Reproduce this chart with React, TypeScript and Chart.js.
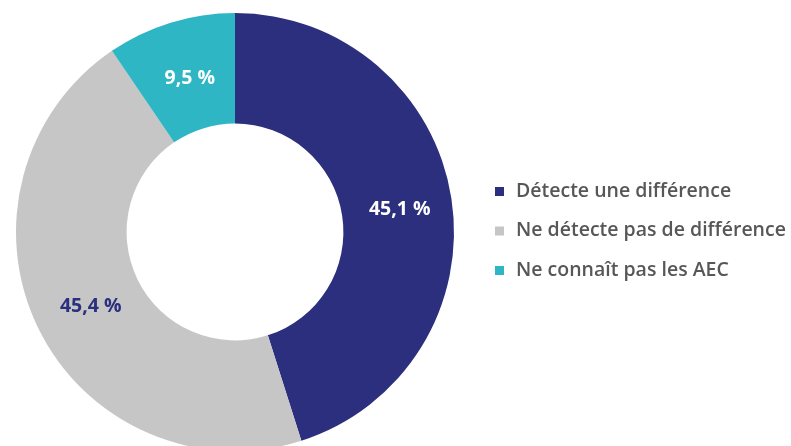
import React, { useEffect, useRef } from "react";
import { Chart, registerables } from "chart.js";

Chart.register(...registerables);

const categories = ["Détecte une différence", "Ne détecte pas de différence", "Ne connaît pas les AEC"];
const values = [45.1, 45.4, 9.5];
const valueLabels = ["45,1 %", "45,4 %", "9,5 %"];
const colors = ["#2b2f7e", "#c6c6c6", "#2fb6c4"];
const labelColors = ["#ffffff", "#2b2f7e", "#ffffff"];

const FONT = "'Open Sans', 'Noto Sans', sans-serif";

const labelPlugin = {
  id: "arcLabels",
  afterDatasetsDraw(chart: any) {
    const ctx = chart.ctx;
    const meta = chart.getDatasetMeta(0);
    ctx.save();
    ctx.font = `700 19.5px ${FONT}`;
    ctx.textAlign = "center";
    ctx.textBaseline = "middle";
    meta.data.forEach((arc: any, i: number) => {
      const p = arc.tooltipPosition();
      ctx.fillStyle = labelColors[i];
      ctx.fillText(valueLabels[i], p.x + 3, p.y + 3);
    });
    ctx.restore();
  },
};

const legendPlugin = {
  id: "customLegend",
  afterDraw(chart: any) {
    const ctx = chart.ctx;
    const area = chart.chartArea;
    const x0 = area.right + 41;
    const yStart = 191;
    const gap = 39.5;
    ctx.save();
    ctx.font = `600 19.5px ${FONT}`;
    ctx.textBaseline = "middle";
    ctx.textAlign = "left";
    categories.forEach((c, i) => {
      const y = yStart + i * gap;
      ctx.fillStyle = colors[i];
      ctx.fillRect(x0, y - 4, 9, 9);
      ctx.fillStyle = "#575757";
      ctx.fillText(c, x0 + 21, y);
    });
    ctx.restore();
  },
};

export default function App() {
  const ref = useRef<HTMLCanvasElement>(null);
  useEffect(() => {
    if (!ref.current) return;
    const chart = new Chart(ref.current, {
      type: "doughnut",
      data: {
        labels: categories,
        datasets: [
          {
            data: values,
            backgroundColor: colors,
            borderWidth: 0,
          },
        ],
      },
      options: {
        animation: false,
        responsive: false,
        maintainAspectRatio: false,
        cutout: "49.5%",
        layout: { padding: { left: 16, right: 337, top: 13, bottom: 13 } },
        plugins: {
          legend: { display: false },
          tooltip: { enabled: false },
        },
      },
      plugins: [labelPlugin, legendPlugin],
    });
    return () => chart.destroy();
  }, []);
  return (
    <div style={{ position: "fixed", left: 0, top: 0, width: 791, height: 446, overflow: "hidden", background: "#fff" }}>
      <canvas ref={ref} width={791} height={464} style={{ display: "block", width: 791, height: 464 }} />
    </div>
  );
}
